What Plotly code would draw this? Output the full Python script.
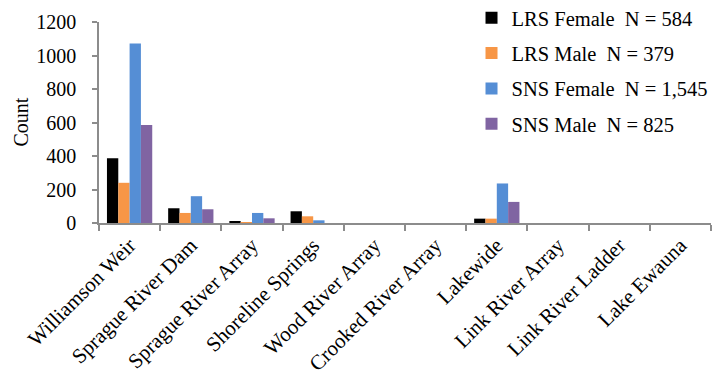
import plotly.graph_objects as go

categories = ["Williamson Weir", "Sprague River Dam", "Sprague River Array", "Shoreline Springs",
              "Wood River Array", "Crooked River Array", "Lakewide", "Link River Array",
              "Link River Ladder", "Lake Ewauna"]
lrs_female = [386, 88, 8, 70, 0, 0, 26, 0, 0, 0]
lrs_male = [240, 60, 5, 40, 0, 0, 26, 0, 0, 0]
sns_female = [1072, 160, 60, 16, 0, 0, 236, 0, 0, 0]
sns_male = [585, 82, 28, 0, 0, 0, 126, 0, 0, 0]

series_names = ["LRS Female\u00a0\u00a0N = 584", "LRS Male\u00a0\u00a0N = 379",
                "SNS Female\u00a0\u00a0N = 1,545", "SNS Male\u00a0\u00a0N = 825"]
series_values = [lrs_female, lrs_male, sns_female, sns_male]
colors = ["#000000", "#F79646", "#558ED5", "#8064A2"]

font = "Liberation Serif"

fig = go.Figure()
for i, (name, vals, col) in enumerate(zip(series_names, series_values, colors)):
    fig.add_trace(go.Bar(x=categories, y=vals, name=name, marker_color=col,
                         marker_line_width=0, legendgroup=f"g{i}"))

# page body has an 8px margin, so the figure is sized/offset to compensate
fig.update_layout(
    width=712, height=373,
    margin=dict(l=91, r=9, t=14, b=158, autoexpand=False),
    paper_bgcolor="white", plot_bgcolor="white",
    barmode="group", bargap=0.26, bargroupgap=0,
    font=dict(family=font, size=20, color="#000000"),
    showlegend=True,
    legend=dict(x=0.651, xref="container", y=1.12, yref="paper",
                xanchor="left", yanchor="top",
                font=dict(family=font, size=20.5, color="#000000"),
                bgcolor="rgba(0,0,0,0)", tracegroupgap=5.7,
                itemwidth=30, traceorder="grouped"),
    xaxis=dict(type="category", tickangle=-45, showline=True, linecolor="#8C8C8C",
               linewidth=1.5, ticks="outside", tickson="boundaries", ticklen=6,
               tickcolor="#8C8C8C", tickwidth=1.5, showgrid=False, automargin=False,
               tickfont=dict(family=font, size=21, color="#000000")),
    yaxis=dict(range=[0, 1200], tickvals=[0, 200, 400, 600, 800, 1000, 1200],
               showline=True, linecolor="#8C8C8C", linewidth=1.5, ticks="outside",
               ticklen=5, tickcolor="#8C8C8C", tickwidth=1.5, showgrid=False,
               zeroline=False, automargin=False, ticklabelstandoff=12,
               tickfont=dict(family=font, size=20, color="#000000")),
    annotations=[dict(text="Count", xref="paper", yref="paper", x=-0.129, y=0.5,
                      xanchor="center", yanchor="middle", textangle=-90, showarrow=False,
                      font=dict(family=font, size=20, color="#000000"))],
)

fig.write_html("out.html")
